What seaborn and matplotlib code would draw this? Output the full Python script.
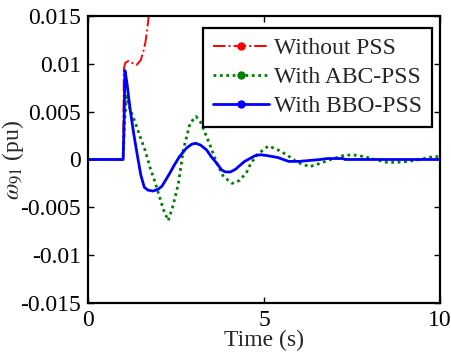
import matplotlib
matplotlib.use("Agg")
import matplotlib.pyplot as plt
from matplotlib.lines import Line2D
import pandas as pd
import seaborn as sns

T_RED = [0, 1.0, 1.02, 1.06, 1.15, 1.25, 1.39, 1.5, 1.58, 1.63, 1.68, 1.72, 1.76, 1.8]
W_RED = [0, 0, 0.0095, 0.0101, 0.0103, 0.0101, 0.0099, 0.0104, 0.0114, 0.0122,
         0.0135, 0.0148, 0.0165, 0.019]

T_ABC = [0, 1.0, 1.04, 1.1, 1.15, 1.2, 1.3, 1.48, 1.62, 1.76, 1.9, 2.0, 2.14, 2.28,
         2.42, 2.57, 2.71, 2.9, 3.07, 3.2, 3.37, 3.52, 3.66, 3.85, 4.1, 4.3, 4.5,
         4.6, 4.8, 5.12, 5.35, 5.64, 5.95, 6.3, 6.6, 6.97, 7.25, 7.5, 7.85, 8.2,
         8.5, 8.77, 9.1, 9.43, 9.8, 10]
W_ABC = [0, 0, 0.004, 0.0066, 0.0058, 0.0052, 0.0043, 0.0024, 0.001, -0.0008,
         -0.0023, -0.0035, -0.0052, -0.0064, -0.0048, -0.0025, 0.001, 0.0038,
         0.0045, 0.0039, 0.0024, 0.001, -0.0004, -0.0018, -0.0025, -0.0022,
         -0.0014, -0.0006, 0.0005, 0.0014, 0.0011, 0.0005, -0.0003, -0.00075,
         -0.0004, 0.0001, 0.0004, 0.0005, 0.0003, -0.00005, -0.0003, -0.0003,
         -0.0002, 0.0, 0.0003, 0.0003]

T_BBO = [0, 1.0, 1.03, 1.05, 1.1, 1.2, 1.3, 1.4, 1.5, 1.6, 1.7, 1.85, 2.0, 2.1, 2.2,
         2.33, 2.45, 2.6, 2.8, 2.95, 3.06, 3.2, 3.37, 3.5, 3.66, 3.8, 3.9, 4.05,
         4.2, 4.32, 4.45, 4.6, 4.75, 4.9, 5.1, 5.4, 5.7, 6.0, 6.3, 6.6, 6.8, 7.25,
         7.3, 8.0, 9.0, 10]
W_BBO = [0, 0, 0.0045, 0.0093, 0.0082, 0.0052, 0.0027, 0.0005, -0.0016, -0.0029,
         -0.0032, -0.0033, -0.0031, -0.0028, -0.0022, -0.0014, -0.0006, 0.0003,
         0.0012, 0.0016, 0.0017, 0.0015, 0.001, 0.0003, -0.0004, -0.0011,
         -0.0013, -0.0013, -0.001, -0.0006, -0.0002, 0.0001, 0.0004, 0.0005,
         0.0004, 0.0002, -0.0002, -0.0002, -0.0001, 0.0, 0.0001, 0.0001, 0.0,
         0.0, 0.0, 0.0]

LABELS = ["Without PSS", "With ABC-PSS", "With BBO-PSS"]
COLORS = ["#FF0000", "#008000", "#0000FF"]
STYLES = ["-.", (0, (1, 1.3)), "-"]
WIDTHS = [1.4, 2.0, 2.0]

Y_TICKS = [-0.015, -0.01, -0.005, 0, 0.005, 0.01, 0.015]
Y_TICK_LABELS = ["-0.015", "-0.01", "-0.005", "0", "0.005", "0.01", "0.015"]
X_TICKS = [0, 5, 10]

sns.set_style("ticks")
plt.rcParams["font.family"] = ["Liberation Serif", "DejaVu Serif"]
plt.rcParams["mathtext.fontset"] = "stix"
plt.rcParams["axes.unicode_minus"] = False
FS = 17

fig = plt.figure(figsize=(4.51, 3.56), dpi=100)
ax = fig.add_axes([0.195, 0.149, 0.7806, 0.806])

series = [(T_RED, W_RED), (T_ABC, W_ABC), (T_BBO, W_BBO)]
for (t, w), lab, c, ls, lw in zip(series, LABELS, COLORS, STYLES, WIDTHS):
    df = pd.DataFrame({"t": t, "w": w})
    sns.lineplot(data=df, x="t", y="w", ax=ax, color=c, linestyle=ls,
                 linewidth=lw, estimator=None, sort=False)

ax.set_xlim(0, 10)
ax.set_ylim(-0.015, 0.015)
ax.set_xticks(X_TICKS)
ax.set_xticklabels([str(x) for x in X_TICKS])
ax.set_yticks(Y_TICKS)
ax.set_yticklabels(Y_TICK_LABELS)
ax.tick_params(direction="in", length=4, width=1, top=True, right=True,
               labelsize=FS, pad=5, colors="black")
for sp in ax.spines.values():
    sp.set_linewidth(1.6)
    sp.set_color("black")

ax.set_xlabel("Time (s)", fontsize=FS, labelpad=-1)
ax.set_ylabel(r"$\omega_{91}$ (pu)", fontsize=FS, labelpad=-4)

handles = [Line2D([0, 0.5, 1], [0, 0, 0], color=c, linestyle=ls, linewidth=lw,
                  marker="o", markersize=5, markevery=[1])
           for c, ls, lw in zip(COLORS, STYLES, WIDTHS)]
leg = ax.legend(handles, LABELS, loc="upper right", bbox_to_anchor=(0.976, 0.958),
                fontsize=FS, frameon=True, fancybox=False, framealpha=1,
                edgecolor="black", handlelength=2.4, handletextpad=0.2,
                labelspacing=0.32, borderpad=0.4, borderaxespad=0)
leg.get_frame().set_linewidth(1.6)

fig.savefig("out.png", dpi=100)
